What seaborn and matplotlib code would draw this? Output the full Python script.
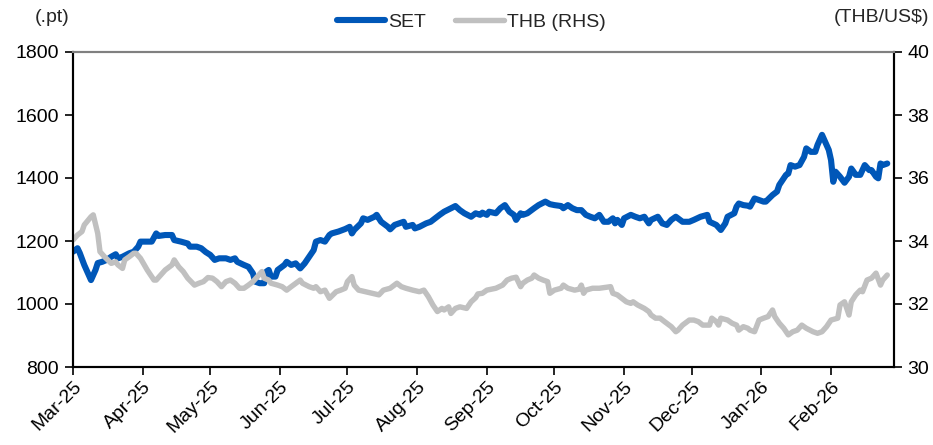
import matplotlib
matplotlib.use("Agg")
import matplotlib.pyplot as plt
import matplotlib.dates as mdates
import seaborn as sns
import pandas as pd

set_dates = ["2025-03-01","2025-03-03","2025-03-04","2025-03-06","2025-03-08","2025-03-09","2025-03-11","2025-03-12",
    "2025-03-14","2025-03-16","2025-03-18","2025-03-20","2025-03-21","2025-03-23","2025-03-26","2025-03-28",
    "2025-03-30","2025-03-31","2025-04-03","2025-04-05","2025-04-07","2025-04-08","2025-04-11","2025-04-14",
    "2025-04-15","2025-04-18","2025-04-21","2025-04-22","2025-04-25","2025-04-27","2025-04-29","2025-05-01",
    "2025-05-03","2025-05-05","2025-05-08","2025-05-10","2025-05-12","2025-05-13","2025-05-16","2025-05-18",
    "2025-05-20","2025-05-21","2025-05-23","2025-05-25","2025-05-26","2025-05-27","2025-05-28","2025-05-30",
    "2025-05-31","2025-06-03","2025-06-04","2025-06-06","2025-06-08","2025-06-10","2025-06-12","2025-06-14",
    "2025-06-16","2025-06-17","2025-06-19","2025-06-21","2025-06-23","2025-06-24","2025-06-27","2025-06-30",
    "2025-07-02","2025-07-03","2025-07-04","2025-07-07","2025-07-08","2025-07-10","2025-07-13","2025-07-14",
    "2025-07-16","2025-07-19","2025-07-20","2025-07-22","2025-07-24","2025-07-26","2025-07-27","2025-07-30",
    "2025-07-31","2025-08-02","2025-08-05","2025-08-07","2025-08-09","2025-08-11","2025-08-13","2025-08-16",
    "2025-08-18","2025-08-20","2025-08-22","2025-08-25","2025-08-27","2025-08-29","2025-08-30","2025-09-01",
    "2025-09-02","2025-09-05","2025-09-07","2025-09-09","2025-09-11","2025-09-13","2025-09-14","2025-09-16",
    "2025-09-17","2025-09-19","2025-09-22","2025-09-24","2025-09-27","2025-09-29","2025-10-01","2025-10-04",
    "2025-10-05","2025-10-07","2025-10-09","2025-10-11","2025-10-13","2025-10-15","2025-10-17","2025-10-19",
    "2025-10-21","2025-10-23","2025-10-25","2025-10-27","2025-10-28","2025-10-29","2025-10-31","2025-11-01",
    "2025-11-04","2025-11-06","2025-11-08","2025-11-10","2025-11-12","2025-11-13","2025-11-16","2025-11-18",
    "2025-11-20","2025-11-22","2025-11-24","2025-11-27","2025-11-30","2025-12-02","2025-12-05","2025-12-08",
    "2025-12-09","2025-12-12","2025-12-14","2025-12-16","2025-12-17","2025-12-20","2025-12-21","2025-12-22",
    "2025-12-24","2025-12-26","2025-12-27","2025-12-29","2025-12-31","2026-01-02","2026-01-03","2026-01-06",
    "2026-01-08","2026-01-09","2026-01-12","2026-01-13","2026-01-14","2026-01-16","2026-01-18","2026-01-20",
    "2026-01-21","2026-01-23","2026-01-25","2026-01-26","2026-01-28","2026-01-29","2026-01-31","2026-02-01",
    "2026-02-02","2026-02-03","2026-02-05","2026-02-07","2026-02-09","2026-02-10","2026-02-12","2026-02-14",
    "2026-02-16","2026-02-18","2026-02-19","2026-02-21","2026-02-22","2026-02-23","2026-02-24","2026-02-26"]
set_values = [1166,1177,1162,1124,1092,1076,1108,1130,
    1134,1140,1150,1158,1145,1150,1161,1166,
    1182,1198,1198,1198,1224,1216,1219,1219,
    1203,1198,1192,1182,1182,1177,1165,1156,
    1140,1145,1145,1140,1145,1134,1124,1118,
    1097,1071,1066,1066,1103,1108,1087,1087,
    1108,1124,1134,1124,1129,1113,1129,1150,
    1171,1198,1203,1198,1219,1224,1230,1238,
    1245,1224,1235,1256,1272,1267,1277,1283,
    1261,1245,1237,1251,1256,1261,1245,1251,
    1240,1245,1256,1261,1272,1283,1293,1304,
    1311,1298,1288,1277,1288,1283,1290,1283,
    1293,1288,1304,1314,1293,1283,1267,1288,
    1283,1288,1304,1314,1325,1317,1314,1311,
    1304,1314,1304,1298,1298,1283,1277,1272,
    1283,1261,1261,1272,1256,1267,1251,1272,
    1283,1277,1272,1277,1256,1267,1277,1256,
    1251,1267,1277,1261,1261,1267,1277,1283,
    1261,1251,1235,1256,1277,1288,1309,1319,
    1314,1312,1309,1335,1330,1325,1325,1346,
    1357,1378,1410,1414,1441,1436,1441,1467,
    1494,1483,1483,1505,1537,1521,1489,1457,
    1388,1420,1404,1385,1404,1430,1410,1410,
    1441,1425,1425,1404,1399,1446,1441,1446]

thb_dates = ["2025-03-01","2025-03-03","2025-03-05","2025-03-06","2025-03-09","2025-03-10","2025-03-12","2025-03-13",
    "2025-03-15","2025-03-18","2025-03-20","2025-03-21","2025-03-23","2025-03-24","2025-03-26","2025-03-28",
    "2025-03-29","2025-03-31","2025-04-03","2025-04-06","2025-04-07","2025-04-09","2025-04-11","2025-04-14",
    "2025-04-15","2025-04-17","2025-04-19","2025-04-21","2025-04-24","2025-04-26","2025-04-28","2025-04-30",
    "2025-05-02","2025-05-04","2025-05-06","2025-05-08","2025-05-10","2025-05-12","2025-05-14","2025-05-16",
    "2025-05-18","2025-05-20","2025-05-22","2025-05-24","2025-05-25","2025-05-27","2025-05-28","2025-05-31",
    "2025-06-02","2025-06-04","2025-06-06","2025-06-09","2025-06-10","2025-06-11","2025-06-14","2025-06-16",
    "2025-06-17","2025-06-19","2025-06-21","2025-06-23","2025-06-26","2025-06-28","2025-06-30","2025-07-01",
    "2025-07-03","2025-07-04","2025-07-06","2025-07-09","2025-07-12","2025-07-15","2025-07-17","2025-07-20",
    "2025-07-23","2025-07-25","2025-07-27","2025-07-30","2025-08-02","2025-08-04","2025-08-06","2025-08-08",
    "2025-08-10","2025-08-12","2025-08-13","2025-08-15","2025-08-16","2025-08-18","2025-08-20","2025-08-23",
    "2025-08-25","2025-08-27","2025-08-28","2025-08-30","2025-09-01","2025-09-03","2025-09-05","2025-09-08",
    "2025-09-10","2025-09-12","2025-09-14","2025-09-16","2025-09-17","2025-09-19","2025-09-21","2025-09-22",
    "2025-09-24","2025-09-26","2025-09-28","2025-09-29","2025-10-01","2025-10-04","2025-10-05","2025-10-07",
    "2025-10-10","2025-10-12","2025-10-13","2025-10-14","2025-10-15","2025-10-18","2025-10-21","2025-10-24",
    "2025-10-26","2025-10-27","2025-10-29","2025-10-31","2025-11-02","2025-11-04","2025-11-05","2025-11-07",
    "2025-11-10","2025-11-12","2025-11-13","2025-11-15","2025-11-17","2025-11-19","2025-11-22","2025-11-24",
    "2025-11-25","2025-11-27","2025-11-30","2025-12-02","2025-12-04","2025-12-06","2025-12-09","2025-12-10",
    "2025-12-12","2025-12-13","2025-12-14","2025-12-17","2025-12-19","2025-12-21","2025-12-22","2025-12-24",
    "2025-12-26","2025-12-27","2025-12-29","2025-12-31","2026-01-02","2026-01-04","2026-01-06","2026-01-07",
    "2026-01-09","2026-01-11","2026-01-13","2026-01-15","2026-01-17","2026-01-19","2026-01-21","2026-01-24",
    "2026-01-26","2026-01-28","2026-01-30","2026-02-01","2026-02-04","2026-02-05","2026-02-07","2026-02-09",
    "2026-02-10","2026-02-12","2026-02-14","2026-02-15","2026-02-17","2026-02-19","2026-02-21","2026-02-23",
    "2026-02-24","2026-02-26"]
thb_values = [34.03,34.19,34.30,34.51,34.77,34.83,34.24,33.66,
    33.50,33.29,33.34,33.24,33.13,33.40,33.50,33.61,
    33.61,33.45,33.08,32.76,32.76,32.92,33.08,33.24,
    33.40,33.18,33.03,32.82,32.60,32.66,32.71,32.84,
    32.82,32.71,32.55,32.71,32.76,32.66,32.50,32.50,
    32.60,32.71,32.87,33.03,32.82,32.76,32.66,32.60,
    32.55,32.44,32.55,32.71,32.76,32.66,32.55,32.50,
    32.55,32.39,32.44,32.18,32.39,32.44,32.50,32.71,
    32.87,32.60,32.44,32.39,32.34,32.29,32.44,32.50,
    32.66,32.55,32.50,32.44,32.39,32.44,32.23,31.97,
    31.76,31.86,31.81,31.91,31.70,31.86,31.91,31.86,
    32.07,32.20,32.32,32.34,32.44,32.47,32.50,32.60,
    32.76,32.82,32.85,32.55,32.66,32.76,32.82,32.92,
    32.82,32.76,32.71,32.34,32.44,32.50,32.60,32.50,
    32.44,32.47,32.60,32.34,32.44,32.50,32.50,32.53,
    32.55,32.34,32.29,32.18,32.07,32.02,32.07,31.97,
    31.86,31.76,31.65,31.55,31.55,31.44,31.28,31.12,
    31.17,31.33,31.49,31.49,31.44,31.33,31.33,31.55,
    31.44,31.33,31.55,31.49,31.39,31.33,31.17,31.28,
    31.23,31.17,31.12,31.49,31.55,31.60,31.81,31.60,
    31.39,31.23,31.02,31.12,31.17,31.33,31.23,31.12,
    31.07,31.12,31.28,31.49,31.55,31.97,32.07,31.65,
    32.07,32.29,32.44,32.39,32.76,32.82,32.98,32.60,
    32.76,32.92]

month_ticks = ["2025-03-01","2025-04-01","2025-05-01","2025-06-01","2025-07-01","2025-08-01",
               "2025-09-01","2025-10-01","2025-11-01","2025-12-01","2026-01-01","2026-02-01"]
left_ticks = [800, 1000, 1200, 1400, 1600, 1800]
right_ticks = [30, 32, 34, 36, 38, 40]

sns.set_style("ticks")
plt.rcParams["font.family"] = ["Liberation Sans", "DejaVu Sans"]
fs = 14

set_df = pd.DataFrame({"date": pd.to_datetime(set_dates), "SET": set_values})
thb_df = pd.DataFrame({"date": pd.to_datetime(thb_dates), "THB": thb_values})

fig = plt.figure(figsize=(9.33, 4.45), dpi=100)
ax = fig.add_axes([73/933, 1-367/445, (894-73)/933, (367-52)/445])
ax2 = ax.twinx()

blue = "#0057B8"
grey = "#C0C0C0"
sns.lineplot(data=set_df, x="date", y="SET", ax=ax, color=blue, linewidth=4.4, label="SET", legend=False)
sns.lineplot(data=thb_df, x="date", y="THB", ax=ax2, color=grey, linewidth=3.9, label="THB (RHS)", legend=False)

ax.set_xlim(pd.Timestamp("2025-03-01"), pd.Timestamp("2026-03-01"))
ax.set_ylim(800, 1800)
ax2.set_ylim(30, 40)
ax.set_yticks(left_ticks)
ax2.set_yticks(right_ticks)
ax.set_xticks(pd.to_datetime(month_ticks))
ax.xaxis.set_major_formatter(mdates.DateFormatter("%b-%y"))
for lab in ax.get_xticklabels():
    lab.set_rotation(45)
    lab.set_ha("right")
    lab.set_rotation_mode("anchor")
ax.set_xlabel("")
ax.set_ylabel("")
ax2.set_ylabel("")

for a in (ax, ax2):
    for s in ("left", "right", "bottom"):
        a.spines[s].set_color("black")
        a.spines[s].set_linewidth(1.5)
    a.spines["top"].set_color("#808080")
    a.spines["top"].set_linewidth(1.5)
ax.tick_params(axis="both", direction="out", length=6, width=1.2, colors="black", labelsize=fs)
ax2.tick_params(axis="y", direction="out", length=6, width=1.2, colors="black", labelsize=fs)
ax.tick_params(axis="x", pad=2)
ax.tick_params(axis="y", pad=4)

fig.text(35/933, 1-18/445, "(.pt)", ha="left", va="center", fontsize=fs)
fig.text(929/933, 1-18/445, "(THB/US$)", ha="right", va="center", fontsize=fs)

h1, l1 = ax.get_legend_handles_labels()
h2, l2 = ax2.get_legend_handles_labels()
fig.legend(h1 + h2, l1 + l2, loc="center", bbox_to_anchor=(0.505, 1-22/445), ncol=2,
           frameon=False, fontsize=fs, handlelength=2.5, handletextpad=0.15, columnspacing=1.5)

fig.savefig("out.png", dpi=100)
